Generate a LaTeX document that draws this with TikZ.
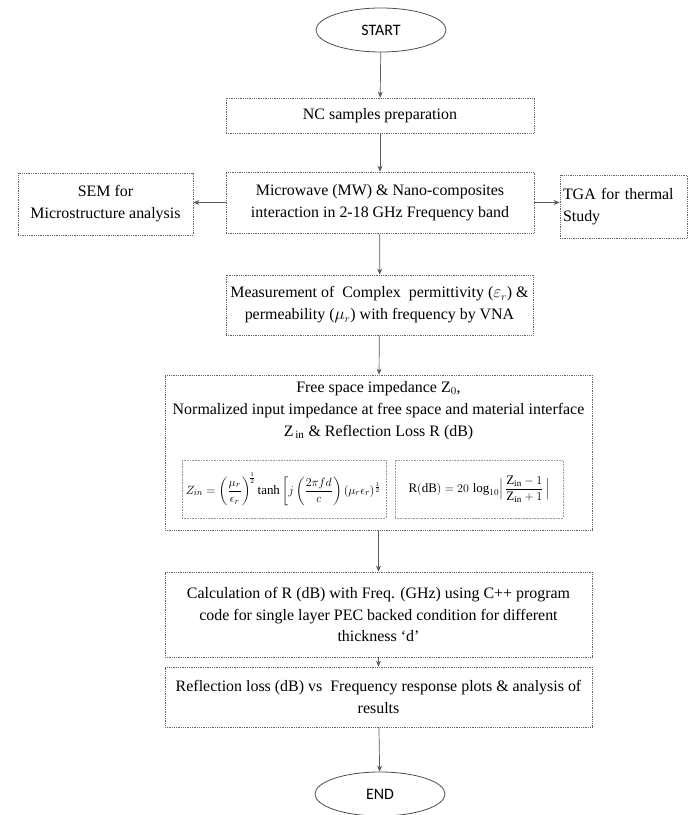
\documentclass[tikz,border=0pt]{standalone}
\usepackage{amsmath}
\usepackage{fontspec}
\setmainfont{Liberation Serif}
\newfontfamily\boxfont{Liberation Serif}
\newfontfamily\termfont{Carlito}
\usetikzlibrary{shapes.geometric,
                arrows.meta}

\tikzset{
  box/.style={draw=black!60, densely dotted, line width=0.8pt, rectangle,
              align=center, inner sep=2pt, font=\boxfont\fontsize{16}{22}\selectfont},
  eqbox/.style={draw=black!40, densely dotted, line width=0.6pt, rectangle,
                inner sep=1pt, font=\fontsize{13}{15}\selectfont},
  term/.style={draw=black!70, ellipse, line width=0.8pt, minimum width=130bp,
               minimum height=44bp, inner sep=0pt, font=\termfont\fontsize{16}{19}\selectfont},
  flow/.style={draw=black!65, line width=0.7pt, -{Stealth[length=6pt,width=5pt]}}
}

\begin{document}
\begin{tikzpicture}[x=1bp,y=-1bp]
\useasboundingbox (0,0) rectangle (688,815);

\node[term] (start) at (381,30) {START};
\node[box, minimum width=308bp, minimum height=35bp] (nc) at (380,115.5) {NC samples preparation};
\node[box, minimum width=308bp, minimum height=61bp] (mw) at (380,202.5)
  {Microwave (MW) \& Nano-composites\\interaction in 2-18 GHz Frequency band};
\node[box, minimum width=175bp, minimum height=62bp] (sem) at (105.5,204)
  {SEM for\\Microstructure analysis};
\node[box, text width=121bp, inner sep=3bp, align=left, minimum height=63bp] (tga) at (623.5,206.5)
  {TGA for thermal\\Study};
\node[box, minimum width=307bp, minimum height=60bp] (meas) at (379.5,305)
  {Measurement of\ \ Complex\ \ permittivity ($\varepsilon_r$) \&\\permeability ($\mu_r$) with frequency by VNA};

% impedance block
\node[box, minimum width=427bp, minimum height=155bp] (imp) at (378.5,452.5) {};
\node[align=center, anchor=north, inner sep=0pt, font=\boxfont\fontsize{16}{22}\selectfont] (imptxt) at (378.5,381)
  {Free space impedance Z$_0$,\\Normalized input impedance at free space and material interface\\Z$_{\,\mathrm{in}}$ \& Reflection Loss R (dB)};
\node[eqbox, minimum width=204bp, minimum height=58bp] (zin) at (284,489)
  {$Z_{in}=\left(\dfrac{\mu_r}{\epsilon_r}\right)^{\!\frac{1}{2}}\tanh\left[j\left(\dfrac{2\pi f d}{c}\right)(\mu_r\epsilon_r)^{\frac{1}{2}}\right.$};
\node[eqbox, minimum width=168bp, minimum height=58bp] (rdb) at (479,489)
  {$\mathrm{R(dB)}=20\,\log_{10}\Bigl|\,\dfrac{\mathrm{Z_{in}}-1}{\mathrm{Z_{in}}+1}\,\Bigr|$};

\node[box, minimum width=427bp, minimum height=85bp] (calc) at (378.5,614.5)
  {Calculation of R (dB) with Freq. (GHz) using C++ program\\code for single layer PEC backed condition for different\\thickness ‘d’};
\node[box, minimum width=427bp, minimum height=60bp] (refl) at (378.5,697)
  {Reflection loss (dB) vs\ \ Frequency response plots \& analysis of\\results};
\node[term] (end) at (380,794) {END};

\draw[flow] (start) -- (nc);
\draw[flow] (nc) -- (mw);
\draw[flow] (mw.west) -- (mw.west -| sem.east);
\draw[flow] (mw.east) -- (mw.east -| tga.west);
\draw[flow] (mw) -- (meas);
\draw[flow] (meas) -- (imp);
\draw[flow] (imp) -- (calc);
\draw[flow] (calc) -- (refl);
\draw[flow] (refl) -- (end);

\end{tikzpicture}
\end{document}
